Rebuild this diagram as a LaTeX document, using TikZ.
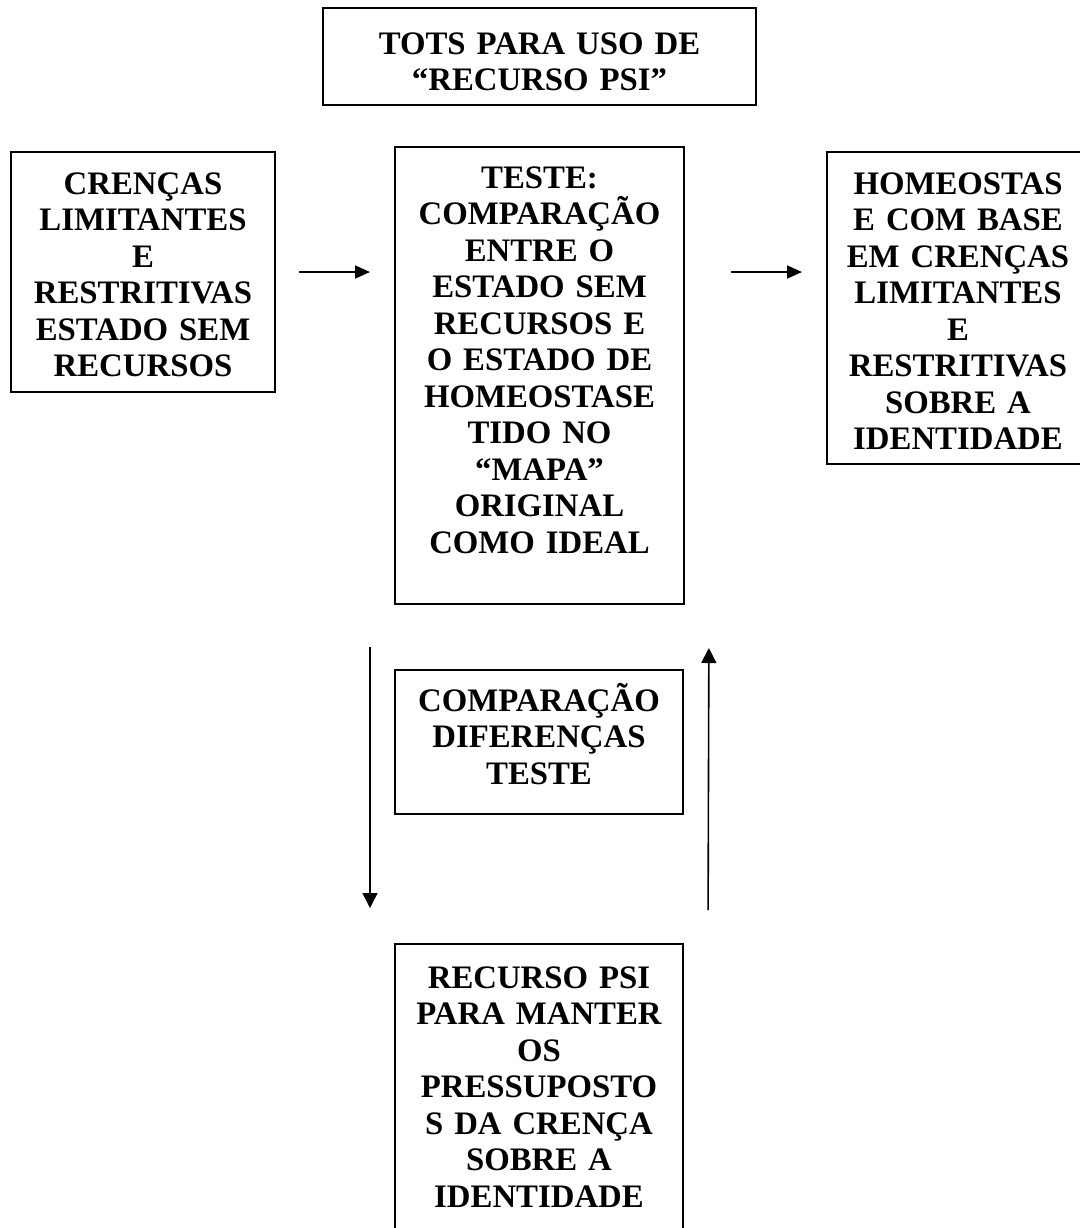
\documentclass[tikz,border=0pt]{standalone}
\usepackage{fontspec}
\setmainfont{Liberation Serif}
\usetikzlibrary{arrows.meta}
\tikzset{
  flow/.style={-{Triangle[length=7.5pt,width=6.5pt]}, line width=0.9pt, draw=black},
  vflow/.style={-{Triangle[length=7.5pt,width=7.5pt]}, line width=0.8pt, draw=black},
  textbox/.style={draw=black, line width=1pt, anchor=north west, inner sep=0pt, align=center,
    font=\bfseries\fontsize{16.4pt}{18.25pt}\selectfont}
}

\begin{document}
\begin{tikzpicture}[x=0.5pt, y=-0.5pt]
  \useasboundingbox (0,0) rectangle (1080,1228);

  \node[textbox, text width=216.5pt, text height=23pt, text depth=25.5pt] (title) at (322,7)
    {TOTS PARA USO DE\\“RECURSO PSI”};
  \node[textbox, text width=132pt, text height=21pt, text depth=99pt] (beliefs) at (10,151)
    {CRENÇAS\\LIMITANTES\\E\\RESTRITIVAS\\ESTADO SEM\\RECURSOS};
  \node[textbox, text width=144.5pt, text height=20.5pt, text depth=208pt] (test) at (394,146)
    {TESTE:\\COMPARAÇÃO\\ENTRE O\\ESTADO SEM\\RECURSOS E\\O ESTADO DE\\HOMEOSTASE\\TIDO NO\\“MAPA”\\ORIGINAL\\COMO IDEAL};
  \node[textbox, text width=131pt, text height=21pt, text depth=135pt] (homeo) at (826,151)
    {HOMEOSTAS\\E COM BASE\\EM CRENÇAS\\LIMITANTES\\E\\RESTRITIVAS\\SOBRE A\\IDENTIDADE};
  \node[textbox, text width=144pt, text height=20.5pt, text depth=51.5pt] (compare) at (394,669)
    {COMPARAÇÃO\\DIFERENÇAS\\TESTE};
  \node[textbox, text width=144pt, text height=22pt, text depth=130pt] (resource) at (394,943)
    {RECURSO PSI\\PARA MANTER\\OS\\PRESSUPOSTO\\S DA CRENÇA\\SOBRE A\\IDENTIDADE};

  % horizontal flow
  \draw[flow, shorten <=11.5pt, shorten >=12pt] (beliefs.east) -- (beliefs.east -| test.west);
  \draw[flow, shorten <=23pt, shorten >=12pt] (test.east |- beliefs.east) -- (homeo.west |- beliefs.east);
  % loop between test and resource
  \draw[vflow, shorten <=21pt, shorten >=17.5pt] ([xshift=-12pt]test.south west) -- ([xshift=-12pt]resource.north west);
  \draw[vflow, shorten <=16.5pt, shorten >=21.5pt] ([xshift=12pt]resource.north east) -- ([xshift=12pt]test.south east);
\end{tikzpicture}
\end{document}
